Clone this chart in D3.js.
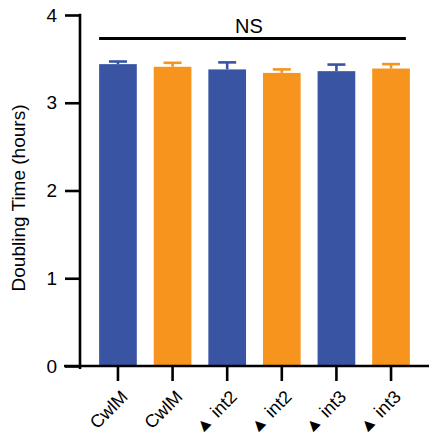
<!DOCTYPE html>
<html lang="en">
<head>
<meta charset="utf-8">
<title>Doubling time</title>
<script src="https://cdn.jsdelivr.net/npm/d3@7"></script>
<style>
  body { margin: 0; background: #fff; }
  svg text { font-family: Arial, "Liberation Sans", Helvetica, sans-serif; fill: #000; }
  .axis line, .axis path { stroke: #000; stroke-width: 2.6; }
</style>
</head>
<body>
<script>
// chart data
var labels = ["CwlM", "CwlM", "\u25B2 int2", "\u25B2 int2", "\u25B2 int3", "\u25B2 int3"];
var values = [3.44, 3.41, 3.38, 3.34, 3.36, 3.39];
var errors = [0.03, 0.045, 0.08, 0.04, 0.075, 0.05];
var groups = ["blue", "orange", "blue", "orange", "blue", "orange"];
var yTicks = [0, 1, 2, 3, 4];

var width = 429, height = 439;
var colors = { blue: "#3a54a4", orange: "#f7941d" };

var svg = d3.select("body").append("svg")
    .attr("width", width)
    .attr("height", height);

var idx = d3.range(labels.length);

var x = d3.scaleBand()
    .domain(idx)
    .range([80, 429])
    .paddingInner(0.31)
    .paddingOuter(0.35);

var y = d3.scaleLinear()
    .domain([0, 4])
    .range([366, 15]);

// bars
svg.selectAll(".bar")
    .data(idx)
  .enter().append("rect")
    .attr("class", "bar")
    .attr("x", function(i) { return x(i); })
    .attr("y", function(i) { return y(values[i]); })
    .attr("width", x.bandwidth())
    .attr("height", function(i) { return y(0) - y(values[i]); })
    .style("fill", function(i) { return colors[groups[i]]; });

// error bars (upper only)
var err = svg.selectAll(".err")
    .data(idx)
  .enter().append("g")
    .attr("class", "err")
    .style("stroke", function(i) { return colors[groups[i]]; })
    .style("stroke-width", 2.6);

err.append("line")
    .attr("x1", function(i) { return x(i) + x.bandwidth() / 2; })
    .attr("x2", function(i) { return x(i) + x.bandwidth() / 2; })
    .attr("y1", function(i) { return y(values[i]); })
    .attr("y2", function(i) { return y(values[i] + errors[i]); });

err.append("line")
    .attr("x1", function(i) { return x(i) + x.bandwidth() / 2 - 9; })
    .attr("x2", function(i) { return x(i) + x.bandwidth() / 2 + 9; })
    .attr("y1", function(i) { return y(values[i] + errors[i]); })
    .attr("y2", function(i) { return y(values[i] + errors[i]); });

// y axis
var yAxis = svg.append("g")
    .attr("class", "axis")
    .attr("transform", "translate(80,0)")
    .call(d3.axisLeft(y).tickValues(yTicks).tickFormat(d3.format("d"))
        .tickSize(15).tickSizeOuter(0).tickPadding(8));
yAxis.select(".domain").remove();
yAxis.selectAll("text").style("font-size", "19px");
yAxis.append("line")
    .attr("x1", 0).attr("x2", 0)
    .attr("y1", y(4) - 1.3).attr("y2", y(0) + 3);

// x axis
var xAxis = svg.append("g")
    .attr("class", "axis")
    .attr("transform", "translate(0," + y(0) + ")")
    .call(d3.axisBottom(x).tickSize(15).tickSizeOuter(0).tickFormat(function(i) { return labels[i]; }));
xAxis.select(".domain").remove();
xAxis.append("line")
    .attr("x1", 64).attr("x2", 429)
    .attr("y1", 0).attr("y2", 0);
xAxis.selectAll("text")
    .style("font-size", "18px")
    .style("text-anchor", "end")
    .attr("x", 0).attr("y", 0).attr("dy", 0)
    .attr("transform", "translate(11,32) rotate(-45)");

// y label
svg.append("text")
    .attr("transform", "translate(25,198) rotate(-90)")
    .style("text-anchor", "middle")
    .style("font-size", "19px")
    .text("Doubling Time (hours)");

// significance line
svg.append("line")
    .attr("x1", x(0))
    .attr("x2", x(idx.length - 1) + x.bandwidth() - 4)
    .attr("y1", 38.5).attr("y2", 38.5)
    .style("stroke", "#000")
    .style("stroke-width", 3);

svg.append("text")
    .attr("x", 249)
    .attr("y", 33)
    .style("text-anchor", "middle")
    .style("font-size", "20px")
    .text("NS");
</script>
</body>
</html>
